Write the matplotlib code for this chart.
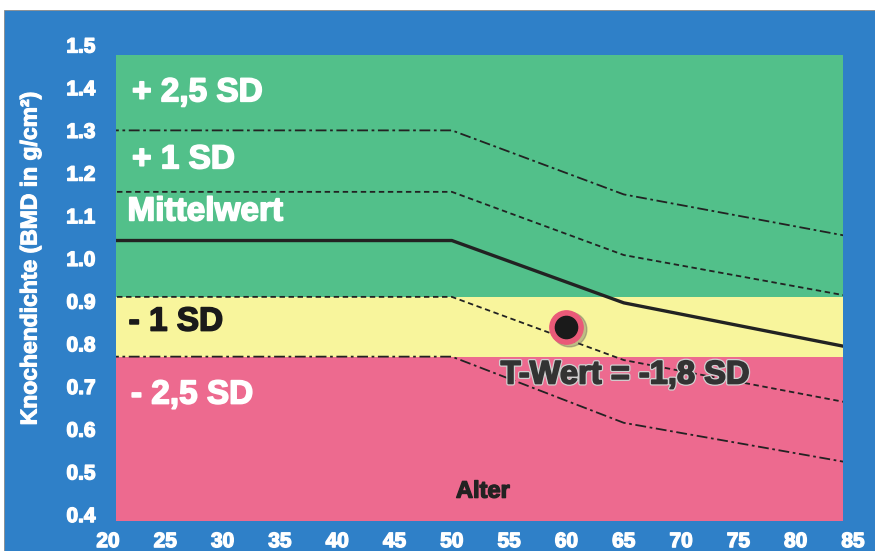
import matplotlib
matplotlib.use("Agg")
import matplotlib.pyplot as plt
import matplotlib.patheffects as pe
from matplotlib.patches import Rectangle

# Daten
alter = [20, 50, 65, 85]
plus_25sd = [1.30, 1.30, 1.15, 1.05]
plus_1sd = [1.156, 1.156, 1.008, 0.91]
mittelwert = [1.042, 1.042, 0.896, 0.79]
minus_1sd = [0.91, 0.91, 0.762, 0.66]
minus_25sd = [0.77, 0.77, 0.615, 0.52]

patient_alter = 60
patient_bmd = 0.84

x_ticks = list(range(20, 90, 5))
y_ticks = [0.4, 0.5, 0.6, 0.7, 0.8, 0.9, 1.0, 1.1, 1.2, 1.3, 1.4, 1.5]

blau = "#2f80c8"
gruen = "#52c08a"
gelb = "#f8f59c"
rosa = "#ed6a8f"

plt.rcParams['font.family'] = ['Liberation Sans', 'DejaVu Sans']
plt.rcParams['font.weight'] = 'bold'


def fett(farbe, lw=1.2):
    # etwas dickere Schrift, wie im Original
    return [pe.withStroke(linewidth=lw, foreground=farbe)]


fig = plt.figure(figsize=(8.75, 5.51), dpi=100)
fig.patch.set_facecolor("white")
hintergrund = Rectangle((4 / 875, 0), 1, 541 / 551, transform=fig.transFigure,
                        facecolor=blau, edgecolor="#8a8a8a", lw=0.6, zorder=-5)
fig.add_artist(hintergrund)

ax = fig.add_axes([108 / 875, 30 / 551, 745 / 875, 476 / 551])
ax.set_zorder(2)
ax.set_facecolor("none")
ax.set_xlim(20, 85)
ax.set_ylim(0.385, 1.5)

# Plotbereich (Feld mit den Farbbändern)
x0, x1, ytop, ybot = 20.7, 84.1, 1.477, 0.385
feld = Rectangle((x0, ybot), x1 - x0, ytop - ybot, facecolor="none", edgecolor="none")
ax.add_patch(feld)

ax.fill_between([x0, x1], minus_1sd[0], ytop, color=gruen, lw=0, zorder=1)
ax.fill_between([x0, x1], minus_25sd[0], minus_1sd[0], color=gelb, lw=0, zorder=1)
ax.fill_between([x0, x1], ybot, minus_25sd[0], color=rosa, lw=0, zorder=1)

linien = [
    (plus_25sd, (0, (6, 2, 1.5, 2)), 1.3),
    (plus_1sd, (0, (3, 2)), 1.3),
    (mittelwert, "-", 2.4),
    (minus_1sd, (0, (3, 2)), 1.3),
    (minus_25sd, (0, (6, 2, 1.5, 2)), 1.3),
]
for werte, stil, lw in linien:
    l, = ax.plot(alter, werte, color="#222222", linestyle=stil, lw=lw, zorder=3)
    l.set_clip_path(feld)

# Patientenwert
ax.plot(patient_alter + 0.25, patient_bmd - 0.006, 'o', ms=25, color="#555555", alpha=0.35, zorder=4)
ax.plot(patient_alter, patient_bmd, 'o', ms=24, color="#ea5a78", zorder=5)
ax.plot(patient_alter, patient_bmd, 'o', ms=16, color="#1a1a1a", zorder=6)

# Beschriftungen der Bänder
txt = dict(fontsize=24, fontweight="bold", va="center", ha="left", zorder=7)
ax.text(22.1, 1.388, "+ 2,5 SD", color="white", path_effects=fett("white"), **txt)
ax.text(22.1, 1.231, "+ 1 SD", color="white", path_effects=fett("white"), **txt)
ax.text(21.7, 1.109, "Mittelwert", color="white", path_effects=fett("white"), **txt)
ax.text(21.8, 0.851, "- 1 SD", color="#1a1a1a", path_effects=fett("#1a1a1a"), **txt)
ax.text(22.0, 0.680, "- 2,5 SD", color="white", path_effects=fett("white"), **txt)
ax.text(65.1, 0.727, "T-Wert = -1,8 SD", color="#333333", fontsize=23.5, fontweight="bold",
        ha="center", va="center", zorder=7,
        path_effects=[pe.withStroke(linewidth=3, foreground="#d0d0d0"),
                      pe.withStroke(linewidth=1.2, foreground="#333333")])
ax.text(52.7, 0.455, "Alter", color="#222222", fontsize=17, fontweight="bold",
        ha="center", va="center", zorder=7, path_effects=fett("#222222", 1))

ax.set_xticks(x_ticks)
ax.set_yticks(y_ticks)
ax.set_yticklabels([f"{v:.1f}" for v in y_ticks])
ax.tick_params(length=0, labelsize=15, labelcolor="white", pad=9)
ax.tick_params(axis="x", pad=8)
for lab in ax.get_xticklabels() + ax.get_yticklabels():
    lab.set_path_effects(fett("white", 1))
for s in ax.spines.values():
    s.set_visible(False)

fig.text(30 / 875, 1 - 259 / 551, "Knochendichte (BMD in g/cm²)", rotation=90,
         color="white", fontsize=16.5, fontweight="bold", ha="center", va="center",
         path_effects=fett("white", 0.8))

fig.savefig("out.png", dpi=100)
